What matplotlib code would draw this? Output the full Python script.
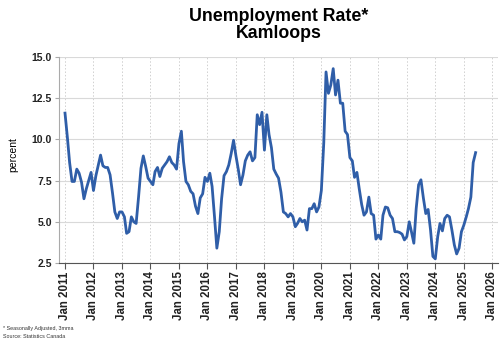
import matplotlib
matplotlib.use('Agg')
import matplotlib.pyplot as plt
import matplotlib.dates as mdates
import numpy as np
import pandas as pd

plt.rcParams['font.family'] = ['Liberation Sans', 'DejaVu Sans']

# monthly unemployment rate (3mma), Kamloops, Jan 2011 onward
start = '2011-01-01'
rate_2011 = [11.6, 10.1, 8.6, 7.45, 7.45, 8.2, 7.95, 7.4, 6.4, 7.0, 7.5, 8.0]
rate_2012 = [6.9, 7.8, 8.4, 9.05, 8.4, 8.3, 8.3, 7.85, 6.75, 5.6, 5.2, 5.6]
rate_2013 = [5.6, 5.3, 4.3, 4.4, 5.3, 5.0, 4.9, 6.5, 8.25, 9.0, 8.35, 7.65]
rate_2014 = [7.45, 7.25, 8.05, 8.3, 7.75, 8.25, 8.45, 8.65, 8.95, 8.6, 8.45, 8.2]
rate_2015 = [9.75, 10.5, 8.65, 7.45, 7.25, 6.85, 6.7, 5.95, 5.5, 6.45, 6.7, 7.7]
rate_2016 = [7.45, 7.95, 7.15, 5.3, 3.4, 4.4, 6.4, 7.8, 8.05, 8.45, 9.15, 9.95]
rate_2017 = [9.0, 8.15, 7.25, 7.85, 8.7, 9.05, 9.25, 8.7, 8.9, 11.5, 10.9, 11.65]
rate_2018 = [9.35, 11.5, 10.3, 9.5, 8.2, 7.9, 7.65, 6.8, 5.6, 5.5, 5.3, 5.5]
rate_2019 = [5.3, 4.7, 4.9, 5.2, 5.0, 5.1, 4.5, 5.8, 5.8, 6.1, 5.6, 5.9]
rate_2020 = [6.9, 9.8, 14.1, 12.8, 13.3, 14.3, 12.7, 13.6, 12.2, 12.2, 10.5, 10.3]
rate_2021 = [8.9, 8.7, 7.7, 8.0, 7.0, 6.05, 5.4, 5.6, 6.5, 5.5, 5.4, 3.95]
rate_2022 = [4.2, 3.95, 5.4, 5.9, 5.85, 5.4, 5.2, 4.4, 4.4, 4.35, 4.25, 3.9]
rate_2023 = [4.1, 5.0, 4.4, 3.7, 5.8, 7.25, 7.55, 6.45, 5.5, 5.75, 4.5, 2.9]
rate_2024 = [2.75, 4.1, 4.9, 4.45, 5.2, 5.4, 5.3, 4.5, 3.6, 3.05, 3.4, 4.4]
rate_2025 = [4.8, 5.3, 5.8, 6.5, 8.6, 9.2]

rate = (rate_2011 + rate_2012 + rate_2013 + rate_2014 + rate_2015 + rate_2016
        + rate_2017 + rate_2018 + rate_2019 + rate_2020 + rate_2021 + rate_2022
        + rate_2023 + rate_2024 + rate_2025)
dates = pd.date_range(start, periods=len(rate), freq='MS')

yticks = [2.5, 5.0, 7.5, 10.0, 12.5, 15.0]

fig = plt.figure(figsize=(5.0, 3.44), dpi=100)
ax = fig.add_axes([0.118, 0.2355, 0.878, 0.5985])

ax.plot(dates, rate, color='#2f5ea8', lw=2.0, solid_joinstyle='round', zorder=3)

ax.set_ylim(2.5, 15.0)
ax.set_yticks(yticks)
ax.set_yticklabels(['%.1f' % v for v in yticks], fontsize=7.5, fontweight='bold', color='#222222')
ax.set_xlim(pd.Timestamp('2010-10-16'), pd.Timestamp('2026-03-15'))
ax.xaxis.set_major_locator(mdates.YearLocator())
ax.xaxis.set_major_formatter(mdates.DateFormatter('%b %Y'))
for lab in ax.get_xticklabels():
    lab.set_rotation(90)
    lab.set_fontsize(8.3)
    lab.set_fontweight('bold')
    lab.set_color('#222222')

ax.grid(axis='y', color='#d9d9d9', lw=0.8)
ax.grid(axis='x', color='#d0d0d0', lw=0.7, ls=(0, (1.5, 2)))
ax.set_axisbelow(True)
for s in ['top', 'right']:
    ax.spines[s].set_visible(False)
ax.spines['left'].set_color('#aaaaaa')
ax.spines['bottom'].set_color('#555555')
ax.tick_params(axis='x', length=4, color='#555555', pad=2)
ax.tick_params(axis='y', length=3, color='#aaaaaa', pad=2)

# title centred over the plot area, two lines
tx = 0.118 + 0.878 / 2
fig.text(tx, 0.939, 'Unemployment Rate*', ha='center', va='baseline',
         fontsize=12.8, fontweight='bold')
fig.text(tx, 0.8895, 'Kamloops', ha='center', va='baseline',
         fontsize=12.8, fontweight='bold')
fig.text(0.026, 0.55, 'percent', rotation=90, ha='center', va='center', fontsize=7.5)
fig.text(0.006, 0.042, '* Seasonally Adjusted, 3mma', fontsize=3.9, color='#333333')
fig.text(0.006, 0.016, 'Source: Statistics Canada', fontsize=3.9, color='#333333')

fig.savefig('out.png', dpi=100)
